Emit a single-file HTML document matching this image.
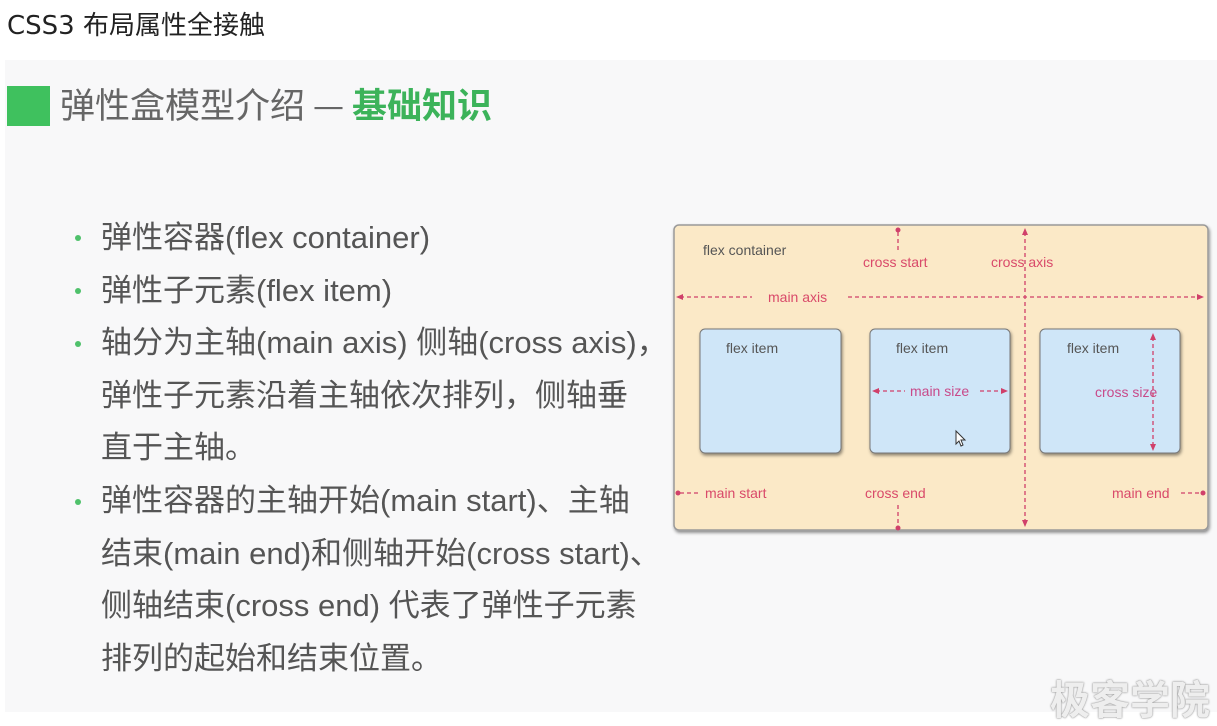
<!DOCTYPE html>
<html><head><meta charset="utf-8">
<style>
html,body{margin:0;padding:0;width:1217px;height:712px;overflow:hidden;background:#fff;font-family:"DejaVu Sans","Noto Sans CJK SC",sans-serif;}
.top{position:absolute;left:7px;top:5px;font-size:26px;color:#222;white-space:nowrap;font-family:"DejaVu Sans","Noto Sans CJK SC",sans-serif;}
.slide{position:absolute;left:5px;top:60px;width:1212px;height:652px;background:#f8f8f9;}
.bar{position:absolute;left:7px;top:86px;width:43px;height:40px;background:#3fc15e;}
.h{position:absolute;left:60px;top:78px;font-size:35px;color:#666;white-space:nowrap;font-family:"Noto Sans CJK SC",sans-serif;}
.h b{color:#3cb35a;}
.txt{position:absolute;left:101px;top:212px;font-size:31px;line-height:52.6px;color:#555;font-family:"Liberation Sans","Noto Sans CJK SC",sans-serif;white-space:nowrap;}
.dot{position:absolute;left:75px;width:6px;height:6px;border-radius:50%;background:#4fc16b;}
.wm{position:absolute;left:1050px;top:668px;font-size:40px;font-weight:bold;color:#eee;text-shadow:0 0 2px #999,0 0 1px #888;font-family:"Noto Sans CJK SC",sans-serif;white-space:nowrap;}
</style></head><body>
<div class="top">CSS3 布局属性全接触</div>
<div class="slide"></div>
<div class="bar"></div>
<div class="h">弹性盒模型介绍 — <b>基础知识</b></div>
<div class="dot" style="top:235px"></div>
<div class="dot" style="top:288px"></div>
<div class="dot" style="top:341px"></div>
<div class="dot" style="top:499px"></div>
<div class="txt">弹性容器(flex container)<br>弹性子元素(flex item)<br>轴分为主轴(main axis) 侧轴(cross axis)，<br>弹性子元素沿着主轴依次排列，侧轴垂<br>直于主轴。<br>弹性容器的主轴开始(main start)、主轴<br>结束(main end)和侧轴开始(cross start)、<br>侧轴结束(cross end) 代表了弹性子元素<br>排列的起始和结束位置。</div>
<svg style="position:absolute;left:0;top:0" width="1217" height="712">
<defs>
<filter id="sh" x="-10%" y="-10%" width="130%" height="130%"><feDropShadow dx="1" dy="2" stdDeviation="1.5" flood-color="#000" flood-opacity="0.45"/></filter>
</defs>
<rect x="674" y="225" width="534" height="305" rx="5" fill="#fbe9c7" stroke="#999" stroke-width="1.5" filter="url(#sh)"/>
<g fill="#cfe6f8" stroke="#777" stroke-width="1" filter="url(#sh)">
<rect x="700" y="329" width="141" height="124" rx="5"/>
<rect x="870" y="329" width="140" height="124" rx="5"/>
<rect x="1040" y="329" width="140" height="124" rx="5"/>
</g>
<g font-size="14" fill="#555" font-family="Liberation Sans,sans-serif">
<text x="703" y="255">flex container</text>
<text x="726" y="353">flex item</text>
<text x="896" y="353">flex item</text>
<text x="1067" y="353">flex item</text>
</g>
<g font-size="14" fill="#d94a6a" font-family="Liberation Sans,sans-serif">
<text x="863" y="267">cross start</text>
<text x="991" y="267">cross axis</text>
<text x="768" y="302">main axis</text>
<text x="705" y="498">main start</text>
<text x="865" y="498">cross end</text>
<text x="1112" y="498">main end</text>
<text x="910" y="396" fill="#c84a8a">main size</text>
<text x="1095" y="397" fill="#c84a8a">cross size</text>
</g>
<g stroke="#d0406a" stroke-width="1.3" stroke-dasharray="4,3" fill="none">
<line x1="680" y1="297" x2="752" y2="297"/>
<line x1="848" y1="297" x2="1198" y2="297"/>
<line x1="1025" y1="232" x2="1025" y2="522"/>
<line x1="898" y1="232" x2="898" y2="252"/>
<line x1="898" y1="505" x2="898" y2="526"/>
<line x1="680" y1="493" x2="700" y2="493"/>
<line x1="1181" y1="493" x2="1202" y2="493"/>
<line x1="876" y1="391" x2="905" y2="391"/>
<line x1="980" y1="391" x2="1005" y2="391"/>
<line x1="1153" y1="337" x2="1153" y2="447"/>
</g>
<g fill="#d0406a">
<polygon points="676,297 683,294 683,300"/>
<polygon points="1204,297 1197,294 1197,300"/>
<polygon points="1025,228 1022,235 1028,235"/>
<polygon points="1025,527 1022,520 1028,520"/>
<circle cx="898" cy="230" r="2.5"/><circle cx="898" cy="528" r="2.5"/>
<circle cx="678" cy="493" r="2.5"/><circle cx="1203" cy="493" r="2.5"/>
<polygon points="872,391 879,388 879,394"/>
<polygon points="1008,391 1001,388 1001,394"/>
<polygon points="1153,333 1150,340 1156,340"/>
<polygon points="1153,451 1150,444 1156,444"/>
</g>
<path d="M956,431 l0,13 3,-3 2,5 2,-1 -2,-5 4,0 z" fill="#fff" stroke="#333" stroke-width="1"/>
</svg>
<div class="wm">极客学院</div>
</body></html>
